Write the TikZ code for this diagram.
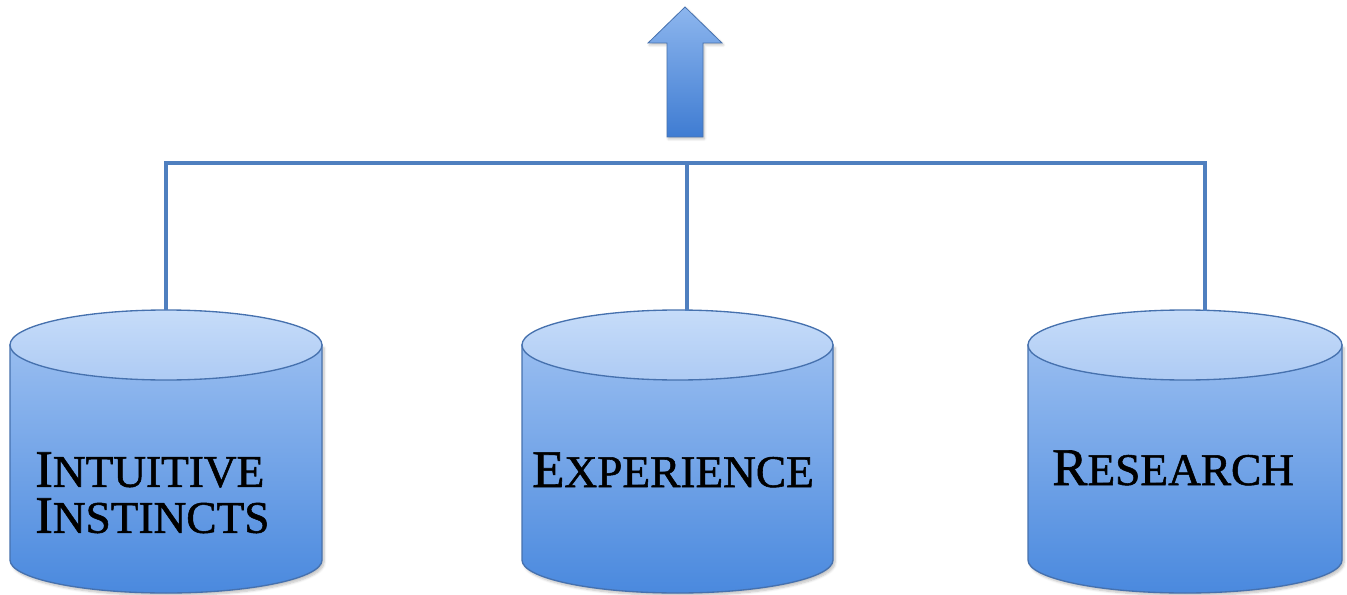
\documentclass[tikz,border=0pt]{standalone}
\usepackage{fontspec}
\setmainfont{Liberation Serif}
\newfontfamily\lblfont{Liberation Serif}[FakeBold=1.2]
\usetikzlibrary{shadows.blur}
\definecolor{edge}{HTML}{4671AE}
\definecolor{bodytop}{HTML}{98BDF0}
\definecolor{bodybot}{HTML}{4A89DE}
\definecolor{captop}{HTML}{C6DCF9}
\definecolor{capbot}{HTML}{AECBF4}
\definecolor{linkc}{HTML}{4F7FBF}
\definecolor{arrtop}{HTML}{8DB6EE}
\definecolor{arrbot}{HTML}{3F7CD2}
\newcommand\bsc[2]{{\fontsize{39.6}{34.5}\selectfont #1}{\fontsize{34}{34.5}\selectfont #2}}
\tikzset{
  cylbody/.style={draw=edge, line width=1pt, top color=bodytop, bottom color=bodybot,
    blur shadow={shadow xshift=1.5pt, shadow yshift=-2pt, shadow blur steps=6, shadow opacity=25}},
  cylcap/.style={draw=edge, line width=1pt, top color=captop, bottom color=capbot},
  link/.style={draw=linkc, line width=3pt},
  lbl/.style={anchor=base west, inner sep=0pt, text=black, font=\lblfont\fontsize{34}{34.5}\selectfont, align=left},
  uparrow/.style={draw=edge, line width=0.6pt, top color=arrtop, bottom color=arrbot,
    blur shadow={shadow xshift=1pt, shadow yshift=-1.5pt, shadow blur steps=5, shadow opacity=25}}
}
\newcommand\mycyl[4]{% cx, rx, topY, botY
  \path[cylbody] (#1-#2,#3) -- (#1-#2,#4) arc[start angle=180,end angle=360,x radius=#2,y radius=33] -- (#1+#2,#3) -- cycle;
  \path[cylcap] (#1,#3) ellipse[x radius=#2, y radius=35];
}
\begin{document}
\begin{tikzpicture}[x=0.75pt,y=0.75pt]
\useasboundingbox (0,0) rectangle (1347,594);
% cylinders
\mycyl{166}{156}{249}{34}
\mycyl{677.5}{155.5}{249}{34}
\mycyl{1185}{157}{249}{34}
\coordinate (c1) at (166,284);
\coordinate (c2) at (687,283.5);
\coordinate (c3) at (1205,283);
\coordinate (hub) at (687,431);
% connectors
\draw[link] (c1) |- (hub);
\draw[link] (c3) |- (hub);
\draw[link] (c2) -- (hub);
% arrow
\path[uparrow] (667,457) -- (667,551) -- (648,551) -- (685,587) -- (722,551) -- (703,551) -- (703,457) -- cycle;
% labels
\node[lbl, anchor=north west] (t1) at (35,142) {\bsc{I}{NTUITIVE}\\\bsc{I}{NSTINCTS}};
\node[lbl] (t2) at (532,107) {\bsc{E}{XPERIENCE}};
\node[lbl] (t3) at (1052,109) {\bsc{R}{ESEARCH}};
\end{tikzpicture}
\end{document}
